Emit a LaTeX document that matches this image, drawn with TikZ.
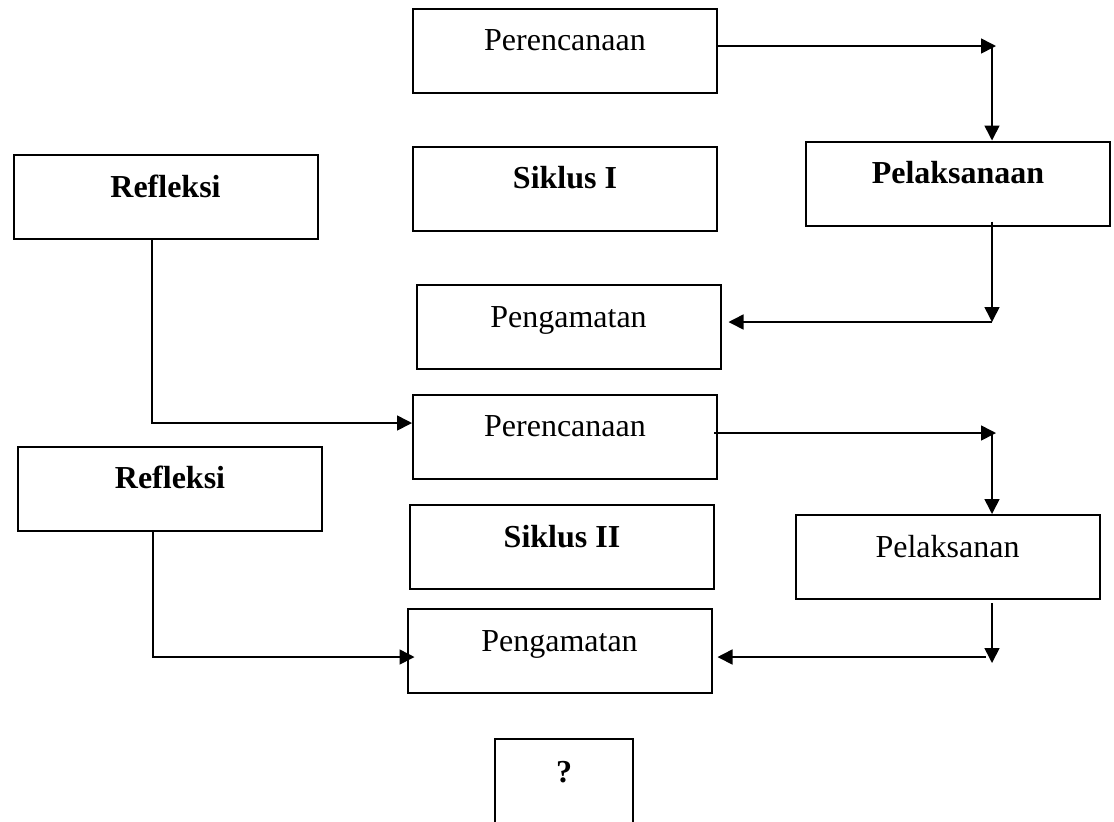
\documentclass[tikz,border=0pt]{standalone}
\usepackage{fontspec}
\setmainfont{Liberation Serif}
\usetikzlibrary{arrows.meta}
\tikzset{
  kotak/.style={draw, line width=1pt, minimum width=152pt, minimum height=42pt, inner sep=0pt,
    text height=11pt, text depth=11pt, font=\fontsize{16}{19}\selectfont},
  tebal/.style={font=\fontsize{16}{19}\selectfont\bfseries},
  panah/.style={line width=0.8pt, -{Triangle[length=7.5pt,width=7.5pt]}}
}
\begin{document}
\begin{tikzpicture}[x=0.5pt,y=-0.5pt]
			\useasboundingbox (0,0) rectangle (1114,821);
			% siklus I
			\node[kotak] (plan1) at (565,50.5) {Perencanaan};
			\node[kotak, tebal] (refl1) at (165.5,197) {Refleksi};
			\node[kotak, tebal] (sik1) at (565,188.5) {Siklus I};
			\node[kotak, tebal] (pel1) at (958,183.5) {Pelaksanaan};
			\node[kotak] (obs1) at (568.5,327) {Pengamatan};
			% siklus II
			\node[kotak] (plan2) at (565,436.5) {Perencanaan};
			\node[kotak, tebal] (refl2) at (170,488.5) {Refleksi};
			\node[kotak, tebal] (sik2) at (562,547) {Siklus II};
			\node[kotak] (pel2) at (947.5,557) {Pelaksanan};
			\node[kotak] (obs2) at (559.5,651) {Pengamatan};
			\node[kotak, tebal, minimum width=69pt, minimum height=43pt] (tanya) at (564,782) {?};
			% titik sudut
			\coordinate (a1) at (996,46);
			\coordinate (b1) at (992,46);
			\coordinate (t2) at (992,322);
			\coordinate (t3) at (152,423);
			\coordinate (a4) at (996,433);
			\coordinate (b4) at (992,433);
			\coordinate (t5) at (992,663);
			\coordinate (c5) at (986,657);
			\coordinate (t6) at (153,657);
			% panah
			\draw[panah] (plan1.east |- a1) -- (a1);
			\draw[panah] (b1) -- (b1 |- pel1.north);
			\draw[panah] ([yshift=2.5pt]pel1.south -| t2) -- (t2);
			\draw[panah] (t2) -- ([xshift=3.5pt]obs1.east |- t2);
			\draw[panah] (refl1.south -| t3) -- (t3) -- (plan2.west |- t3);
			\draw[panah] ([xshift=-2pt]plan2.east |- a4) -- (a4);
			\draw[panah] (b4) -- (b4 |- pel2.north);
			\draw[panah] ([yshift=-1.5pt]pel2.south -| t5) -- (t5);
			\draw[panah] (c5) -- ([xshift=2.5pt]obs2.east |- c5);
			\draw[panah] (refl2.south -| t6) -- (t6) -- ([xshift=4pt]obs2.west |- t6);
\end{tikzpicture}
\end{document}
